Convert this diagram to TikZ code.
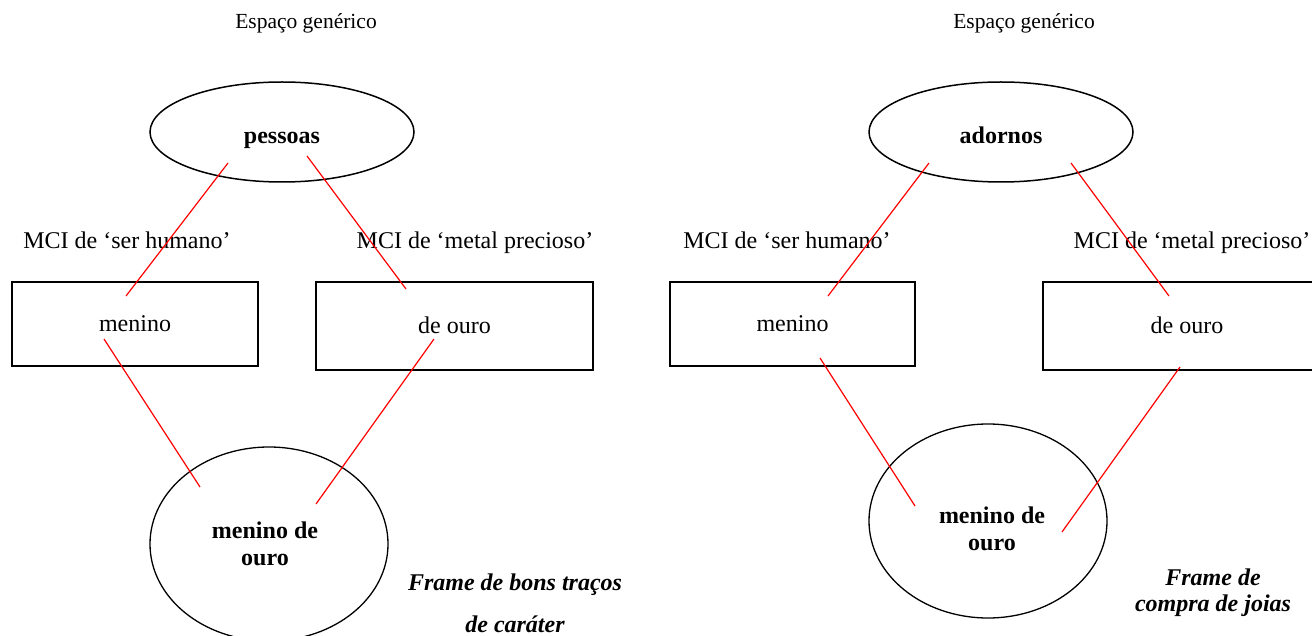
\documentclass[tikz,border=0pt]{standalone}
\usepackage{fontspec}
\setmainfont{Liberation Serif}
\usetikzlibrary{positioning}
\usetikzlibrary{shapes.geometric}
\tikzstyle{gentitle} = [font=\fontsize{21.5}{25}\selectfont]
\tikzstyle{genoval} = [ellipse, draw=black, line width=1.5pt, minimum width=264pt, minimum height=100pt, inner sep=0pt, text height=23pt, text depth=0pt, font=\fontsize{24}{28}\selectfont\bfseries]
\tikzstyle{mcilabel} = [text height=17pt, text depth=5pt, font=\fontsize{24}{28}\selectfont]
\tikzstyle{inbox} = [rectangle, draw=black, line width=1.5pt, inner sep=0pt, text height=21pt, text depth=5pt, font=\fontsize{24}{28}\selectfont]
\tikzstyle{blendoval} = [ellipse, draw=black, line width=1.3pt, minimum width=238pt, minimum height=194pt, inner sep=0pt]
\tikzstyle{blendtext} = [align=center, font=\fontsize{24}{27}\selectfont\bfseries]
\tikzstyle{framelabel} = [align=center, font=\bfseries\itshape]
\tikzstyle{mapline} = [red, line width=1.2pt]

\begin{document}
\begin{tikzpicture}[x=1pt,y=-1pt]
    \useasboundingbox (0,0) rectangle (1312,636);

    % left: menino de ouro as good character
    \node[gentitle] (genL) at (306,23) {Espaço genérico};
    \node[genoval] (pessoas) at (282,132) {pessoas};
    \node[mcilabel] (mciL1) at (127,243) {MCI de ‘ser humano’};
    \node[mcilabel] (mciL2) at (475,243) {MCI de ‘metal precioso’};
    \node[inbox,minimum width=246pt,minimum height=84pt] (meninoL) at (135,324) {menino};
    \node[inbox,minimum width=277pt,minimum height=88pt] (ouroL) at (454.5,326) {de ouro};
    \node[blendoval] (blendL) at (269,544) {};
    \node[blendtext] (blendLtxt) at (265,544) {menino de\\ouro};
    \node[framelabel,font=\fontsize{24}{42}\selectfont\bfseries\itshape] (frameL) at (515,603) {Frame de bons traços\\de caráter};

    \coordinate (pL1) at (228,163);
    \coordinate (pL2) at (307,156);
    \coordinate (mL1) at (126,296);
    \coordinate (oL1) at (406,289);
    \coordinate (mL2) at (104,339);
    \coordinate (oL2) at (434,339);
    \coordinate (bL1) at (200,487);
    \coordinate (bL2) at (316,504);

    \draw[mapline] (pL1) -- (mL1);
    \draw[mapline] (pL2) -- (oL1);
    \draw[mapline] (mL2) -- (bL1);
    \draw[mapline] (oL2) -- (bL2);

    % right: menino de ouro as jewellery
    \node[gentitle] (genR) at (1024,23) {Espaço genérico};
    \node[genoval] (adornos) at (1001,132) {adornos};
    \node[mcilabel] (mciR1) at (787,243) {MCI de ‘ser humano’};
    \node[mcilabel] (mciR2) at (1192,243) {MCI de ‘metal precioso’};
    \node[inbox,minimum width=245pt,minimum height=84pt] (meninoR) at (792.5,324) {menino};
    \node[inbox,minimum width=288pt,minimum height=88pt] (ouroR) at (1187,326) {de ouro};
    \node[blendoval] (blendR) at (988,521) {};
    \node[blendtext] (blendRtxt) at (992,529) {menino de\\ouro};
    \node[framelabel,font=\fontsize{24}{26}\selectfont\bfseries\itshape] (frameR) at (1213,593) {Frame de\\compra de joias};

    \coordinate (pR1) at (929,163);
    \coordinate (pR2) at (1071,163);
    \coordinate (mR1) at (828,296);
    \coordinate (oR1) at (1169,296);
    \coordinate (mR2) at (820,358);
    \coordinate (oR2) at (1180,367);
    \coordinate (bR1) at (915,506);
    \coordinate (bR2) at (1062,532);

    \draw[mapline] (pR1) -- (mR1);
    \draw[mapline] (pR2) -- (oR1);
    \draw[mapline] (mR2) -- (bR1);
    \draw[mapline] (oR2) -- (bR2);

\end{tikzpicture}
\end{document}
